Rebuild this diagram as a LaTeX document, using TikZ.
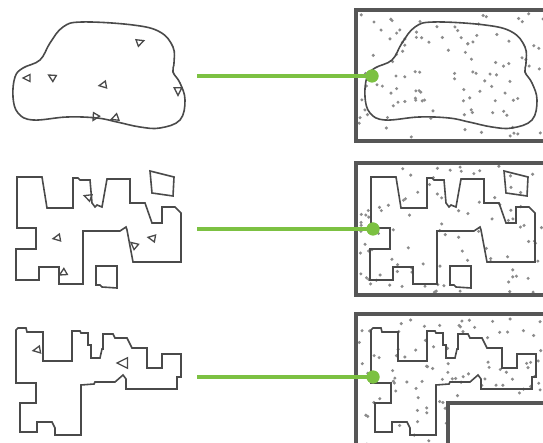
\documentclass[tikz,border=0pt]{standalone}
\begin{document}
\begin{tikzpicture}[x=1pt,y=-1pt,
  outl/.style={draw=outc,line width=1.6pt,line join=miter},
  triline/.style={draw=outc,line width=1.3pt,line join=miter},
  frame/.style={draw=framec,line width=3.6pt},
  gline/.style={draw=greenc,line width=3.4pt},
  gdot/.style={circle,fill=greenc,inner sep=0pt,minimum size=13pt},
  dotc/.style={fill=dotgray}]
\definecolor{outc}{HTML}{4A4A4A}
\definecolor{framec}{HTML}{565656}
\definecolor{dotgray}{HTML}{8C8C8C}
\definecolor{greenc}{HTML}{7CC142}
\useasboundingbox (0,0) rectangle (543,443);
\clip (0,0) rectangle (543,443);
\newcommand\tri[4]{\draw[triline,shift={(#1,#2)},rotate=#3,scale=#4] (-4,0)--(3,-3.5)--(3,3.5)--cycle;}
\def\blobpath{plot[smooth cycle,tension=0.65] coordinates {(82,22) (133,25) (160,32) (173,47) (174,63) (173,72) (180,83) (185,100) (180,120) (160,128) (140,127) (117,122) (97,118) (67,117) (33,120) (18,113) (13,97) (15,77) (23,68) (40,60) (50,43) (63,27)}}
\def\polyA{(17,177) -- (42,177) -- (47,208) -- (73,208) -- (73,178) -- (78,178) -- (80,180) -- (90,180) -- (92,203) -- (95,207) -- (97,205) -- (102,207) -- (107,179) -- (130,179) -- (130,203) -- (145,203) -- (152,223) -- (162,223) -- (162,207) -- (175,207) -- (181,213) -- (181,262) -- (133,262) -- (127,230) -- (126,227) -- (120,231) -- (83,231) -- (83,284) -- (59,284) -- (59,267) -- (39,267) -- (39,280) -- (16,280) -- (16,249) -- (36,249) -- (36,228) -- (17,228) -- cycle}
\def\quadA{(150,171) -- (174,177) -- (173,196) -- (152,193) -- cycle}
\def\squareA{(96,266) -- (117,266) -- (117,288) -- (102,287) -- (100,285) -- (96,285) -- cycle}
\def\polyB{(16,330) -- (18,328) -- (26,328) -- (27,332) -- (43,332) -- (43,361) -- (72,361) -- (72,331) -- (80,331) -- (81,333) -- (88,333) -- (88,345) -- (91,345) -- (91,358) -- (100,358) -- (102,349) -- (103,349) -- (103,334) -- (113,334) -- (115,338) -- (127,338) -- (132,348) -- (147,348) -- (147,368) -- (162,368) -- (162,354) -- (181,354) -- (181,377) -- (177,377) -- (177,389) -- (126,389) -- (126,379) -- (123,375) -- (115,382) -- (95,382) -- (94,384) -- (81,385) -- (81,435) -- (55,435) -- (55,428) -- (52,422) -- (37,422) -- (37,432) -- (20,432) -- (20,403) -- (36,403) -- (36,383) -- (16,383) -- cycle}

% ---------- left column ----------
\draw[outl] \blobpath;
\tri{140}{42}{200}{1}
\tri{27}{78}{0}{1}
\tri{52}{77}{-30}{1}
\tri{103}{85}{10}{1}
\tri{178}{91}{90}{1.1}
\tri{95}{117}{60}{1}
\tri{115}{118}{20}{1}

\draw[outl] \polyA;
\draw[outl] \quadA;
\draw[outl] \squareA;
\tri{88}{197}{-20}{1}
\tri{57}{238}{10}{1}
\tri{134}{245}{-40}{1}
\tri{152}{238}{-10}{1}
\tri{63}{273}{30}{1}

\draw[outl] \polyB;
\tri{37}{350}{10}{1}
\tri{123}{363}{0}{1.5}

% ---------- right column ----------
% panel 1
\fill[white] (356,10) rectangle (560,141);
\begin{scope}
\clip (356,10) rectangle (560,141);
\pgfmathsetseed{11}
\foreach \k in {1,...,110}{
  \pgfmathsetmacro\px{359+186*rnd}
  \pgfmathsetmacro\py{13+126*rnd}
  \fill[dotc] (\px,\py) circle (1.7);
}
\end{scope}
\begin{scope}[shift={(352,0)}]
\draw[outl] \blobpath;
\end{scope}
\draw[frame] (560,10) -- (356,10) -- (356,141) -- (560,141);

% panel 2
\fill[white] (356,163) rectangle (560,295);
\begin{scope}
\clip (356,163) rectangle (560,295);
\pgfmathsetseed{23}
\foreach \k in {1,...,95}{
  \pgfmathsetmacro\px{359+186*rnd}
  \pgfmathsetmacro\py{166+127*rnd}
  \fill[dotc] (\px,\py) circle (1.7);
}
\end{scope}
\begin{scope}[shift={(354,0)}]
\draw[outl] \polyA;
\draw[outl] \quadA;
\draw[outl] \squareA;
\end{scope}
\draw[frame] (560,163) -- (356,163) -- (356,295) -- (560,295);

% panel 3
\fill[white] (356,314) rectangle (560,460);
\begin{scope}
\clip (356,314) rectangle (560,460);
\pgfmathsetseed{37}
\foreach \k in {1,...,105}{
  \pgfmathsetmacro\px{359+186*rnd}
  \pgfmathsetmacro\py{317+128*rnd}
  \fill[dotc] (\px,\py) circle (1.7);
}
\end{scope}
\begin{scope}[shift={(355,0)}]
\draw[outl] \polyB;
\end{scope}
\fill[white] (448,403) rectangle (560,460);
\draw[frame] (560,403) -- (448,403) -- (448,460);
\draw[frame] (560,314) -- (356,314) -- (356,460);

% ---------- connectors ----------
\coordinate (s1) at (197,76);
\coordinate (s2) at (197,229);
\coordinate (s3) at (197,377);
\node[gdot] (d1) at (372,76) {};
\node[gdot] (d2) at (373,229) {};
\node[gdot] (d3) at (373,377) {};
\draw[gline] (s1) -- (d1.center);
\draw[gline] (s2) -- (d2.center);
\draw[gline] (s3) -- (d3.center);
\node[gdot] at (d1) {};
\node[gdot] at (d2) {};
\node[gdot] at (d3) {};
\end{tikzpicture}
\end{document}
